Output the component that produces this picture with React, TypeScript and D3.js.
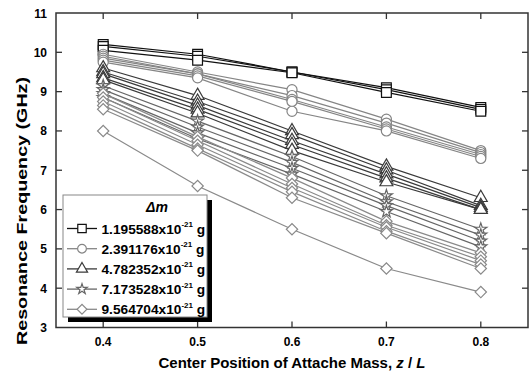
import React from 'react';
import * as d3 from 'd3';

// x positions (z / L)
const positions = [0.4, 0.5, 0.6, 0.7, 0.8];

// resonance frequency (GHz) per curve, grouped by added mass
const squareSeries = [
  [10.2, 9.95, 9.5, 9.1, 8.6],
  [10.15, 9.9, 9.5, 9.05, 8.55],
  [10.05, 9.8, 9.48, 8.98, 8.5],
];
const circleSeries = [
  [9.95, 9.5, 9.05, 8.3, 7.5],
  [9.9, 9.45, 8.9, 8.2, 7.45],
  [9.85, 9.45, 8.8, 8.1, 7.4],
  [9.8, 9.4, 8.75, 8.05, 7.35],
  [9.75, 9.35, 8.5, 8.0, 7.3],
];
const triangleSeries = [
  [9.6, 8.9, 8.0, 7.1, 6.3],
  [9.5, 8.75, 7.9, 7.0, 6.1],
  [9.45, 8.65, 7.75, 6.9, 6.05],
  [9.35, 8.55, 7.65, 6.8, 6.0],
  [9.3, 8.45, 7.5, 6.7, 6.0],
];
const starSeries = [
  [9.15, 8.25, 7.35, 6.35, 5.5],
  [9.05, 8.1, 7.2, 6.2, 5.35],
  [8.95, 7.95, 7.05, 6.1, 5.2],
  [8.85, 7.8, 6.9, 5.95, 5.05],
];
const diamondSeries = [
  [8.95, 7.85, 6.8, 5.7, 4.9],
  [8.85, 7.75, 6.65, 5.6, 4.8],
  [8.75, 7.65, 6.55, 5.55, 4.7],
  [8.65, 7.55, 6.45, 5.45, 4.6],
  [8.55, 7.5, 6.3, 5.4, 4.5],
  [8.0, 6.6, 5.5, 4.5, 3.9],
];

const xTicks = [0.4, 0.5, 0.6, 0.7, 0.8];
const yTicks = [3, 4, 5, 6, 7, 8, 9, 10, 11];
const legendLabels = ['1.195588', '2.391176', '4.782352', '7.173528', '9.564704'];

const FONT = 'Liberation Sans, Arial, sans-serif';

type Kind = 'square' | 'circle' | 'triangle' | 'star' | 'diamond';

const groups: { kind: Kind; color: string; data: number[][] }[] = [
  { kind: 'square', color: '#111', data: squareSeries },
  { kind: 'circle', color: '#858585', data: circleSeries },
  { kind: 'triangle', color: '#3a3a3a', data: triangleSeries },
  { kind: 'star', color: '#666', data: starSeries },
  { kind: 'diamond', color: '#8a8a8a', data: diamondSeries },
];

const sizes: Record<Kind, number> = { square: 95, circle: 80, triangle: 72, star: 45, diamond: 64 };

const symbolPath = (kind: Kind, scale = 1) => {
  const s = sizes[kind] * scale;
  if (kind === 'square') return d3.symbol(d3.symbolSquare, s)()!;
  if (kind === 'circle') return d3.symbol(d3.symbolCircle, s)()!;
  if (kind === 'triangle') return d3.symbol(d3.symbolTriangle, s)()!;
  if (kind === 'star') return d3.symbol(d3.symbolStar, s)()!;
  return d3.symbol(d3.symbolSquare, s)()!;
};

const Marker = ({ kind, color, x, y, scale = 1 }: { kind: Kind; color: string; x: number; y: number; scale?: number }) => (
  <path
    d={symbolPath(kind, scale)}
    transform={`translate(${x},${y})${kind === 'diamond' ? ' rotate(45)' : ''}`}
    fill="#fff"
    stroke={color}
    strokeWidth={1.2}
  />
);

const App = () => {
  const width = 529;
  const height = 376;
  const left = 56;
  const right = 528;
  const top = 13;
  const bottom = 327.5;

  const x = d3.scaleLinear().domain([0.35, 0.85]).range([left, right]);
  const y = d3.scaleLinear().domain([3, 11]).range([bottom, top]);

  const line = d3
    .line<number>()
    .x((_, i) => x(positions[i]))
    .y((d) => y(d));

  const legX = 63;
  const legY = 195;
  const legW = 144;
  const legH = 122;

  return (
    <svg
      width={width}
      height={height}
      style={{ position: 'absolute', left: 0, top: 0, background: '#fff' }}
      fontFamily={FONT}
    >
      {groups.map((g) =>
        g.data.map((s, si) => (
          <g key={g.kind + si}>
            <path d={line(s)!} fill="none" stroke={g.color} strokeWidth={1.2} />
            {s.map((v, i) => (
              <Marker key={i} kind={g.kind} color={g.color} x={x(positions[i])} y={y(v)} />
            ))}
          </g>
        ))
      )}

      {/* frame */}
      <rect x={left} y={top} width={right - left} height={bottom - top} fill="none" stroke="#333" strokeWidth={1.5} />
      {xTicks.map((t) => (
        <g key={t}>
          <line x1={x(t)} x2={x(t)} y1={bottom} y2={bottom - 6} stroke="#333" strokeWidth={1.3} />
          <line x1={x(t)} x2={x(t)} y1={top} y2={top + 6} stroke="#333" strokeWidth={1.3} />
          <text x={x(t)} y={bottom + 18} textAnchor="middle" fontSize={12} fontWeight="bold" fill="#000">
            {t.toFixed(1)}
          </text>
        </g>
      ))}
      {yTicks.map((t) => (
        <g key={t}>
          {t > 3 && t < 11 && (
            <>
              <line x1={left} x2={left + 6} y1={y(t)} y2={y(t)} stroke="#333" strokeWidth={1.3} />
              <line x1={right} x2={right - 6} y1={y(t)} y2={y(t)} stroke="#333" strokeWidth={1.3} />
            </>
          )}
          <text x={47} y={y(t) + 4.5} textAnchor="end" fontSize={12} fontWeight="bold" fill="#000">
            {t}
          </text>
        </g>
      ))}

      <text
        transform={`translate(26.5,${211}) rotate(-90)`}
        textAnchor="middle"
        fontSize={15}
        fontWeight="bold"
        fill="#000"
        textLength={268}
        lengthAdjust="spacingAndGlyphs"
      >
        Resonance Frequency (GHz)
      </text>
      <text x={292} y={368} textAnchor="middle" fontSize={15} fontWeight="bold" fill="#000">
        Center Position of Attache Mass, <tspan fontStyle="italic">z</tspan> / <tspan fontStyle="italic">L</tspan>
      </text>

      {/* legend */}
      <rect x={legX + 5} y={legY + 5} width={legW} height={legH} fill="#000" />
      <rect x={legX} y={legY} width={legW} height={legH} fill="#fff" stroke="#888" strokeWidth={1} />
      <text x={157} y={212} textAnchor="middle" fontSize={14} fontWeight="bold" fontStyle="italic" fill="#000">
        Δm
      </text>
      {groups.map((g, i) => {
        const cy = 228.5 + i * 20.2;
        return (
          <g key={g.kind}>
            <line x1={67} x2={97} y1={cy} y2={cy} stroke={g.color} strokeWidth={1.3} />
            <Marker kind={g.kind} color={g.color} x={82} y={cy} scale={0.75} />
            <text x={101.5} y={cy + 5} fontSize={13.7} fontWeight="bold" fill="#000">
              {legendLabels[i]}x10
              <tspan fontSize={8} dy={-6.5}>-21</tspan>
              <tspan fontSize={13.7} dy={6.5}> g</tspan>
            </text>
          </g>
        );
      })}
    </svg>
  );
};

export default App;
